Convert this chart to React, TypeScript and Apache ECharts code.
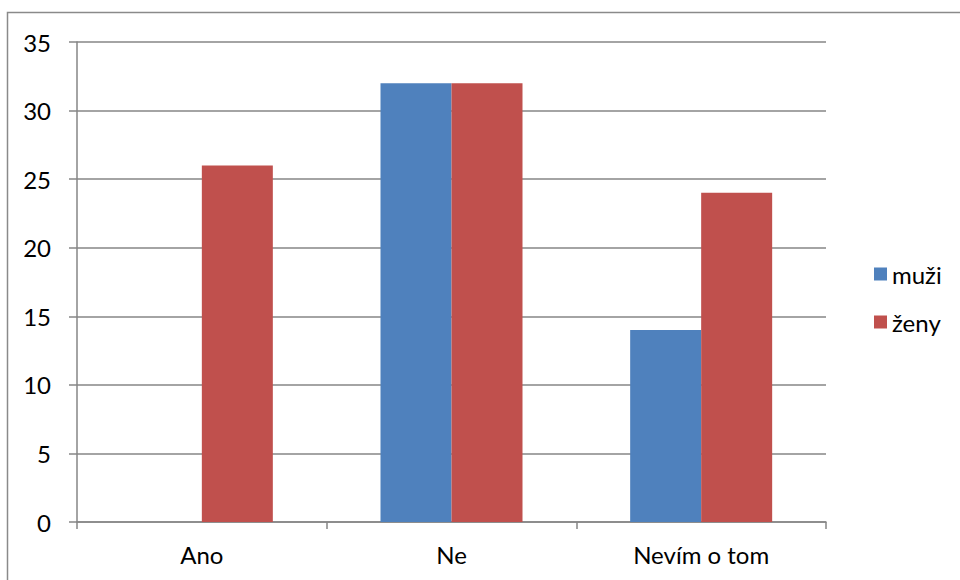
import React, { useEffect, useRef } from "react";
import * as echarts from "echarts";

const categories = ["Ano", "Ne", "Nevím o tom"];
const muzi = [0, 32, 14];
const zeny = [26, 32, 24];
const seriesNames = ["muži", "ženy"];

const FONT = "Lato";

export default function App() {
  const ref = useRef<HTMLDivElement>(null);

  useEffect(() => {
    if (!ref.current) return;
    const chart = echarts.init(ref.current, null, { renderer: "svg" });
    chart.setOption({
      animation: false,
      backgroundColor: "#ffffff",
      textStyle: { fontFamily: FONT },
      graphic: [
        {
          type: "rect",
          shape: { x: 7.5, y: 12.5, width: 1000, height: 1000 },
          style: { fill: "none", stroke: "#8a8a8a", lineWidth: 1.5 },
          silent: true,
        },
      ],
      grid: { left: 77, top: 42, width: 749, height: 480 },
      legend: {
        orient: "vertical",
        left: 869,
        top: 256,
        icon: "rect",
        itemWidth: 13,
        itemHeight: 13,
        itemGap: 22,
        data: seriesNames,
        textStyle: { fontFamily: FONT, fontSize: 24, color: "#000", lineHeight: 26 },
      },
      xAxis: {
        type: "category",
        data: categories,
        axisLine: { lineStyle: { color: "#868686", width: 1.5 } },
        axisTick: { show: true, length: 7, alignWithLabel: false, lineStyle: { color: "#868686", width: 1.5 } },
        axisLabel: { fontFamily: FONT, fontSize: 24, color: "#000", margin: 20 },
      },
      yAxis: {
        type: "value",
        min: 0,
        max: 35,
        interval: 5,
        axisLine: { show: true, lineStyle: { color: "#868686", width: 1.5 } },
        axisTick: { show: true, length: 8, lineStyle: { color: "#868686", width: 1.5 } },
        axisLabel: { fontFamily: FONT, fontSize: 24, color: "#000", margin: 26 },
        splitLine: { show: true, lineStyle: { color: "#868686", width: 1.5 } },
      },
      series: [
        {
          name: seriesNames[0],
          type: "bar",
          data: muzi,
          barWidth: 71,
          barGap: "0%",
          itemStyle: { color: "#4F81BD" },
        },
        {
          name: seriesNames[1],
          type: "bar",
          data: zeny,
          barWidth: 71,
          barGap: "0%",
          itemStyle: { color: "#C0504D" },
        },
      ],
    });
    return () => chart.dispose();
  }, []);

  return (
    <div
      ref={ref}
      style={{ position: "fixed", left: 0, top: 0, width: 960, height: 580 }}
    />
  );
}
